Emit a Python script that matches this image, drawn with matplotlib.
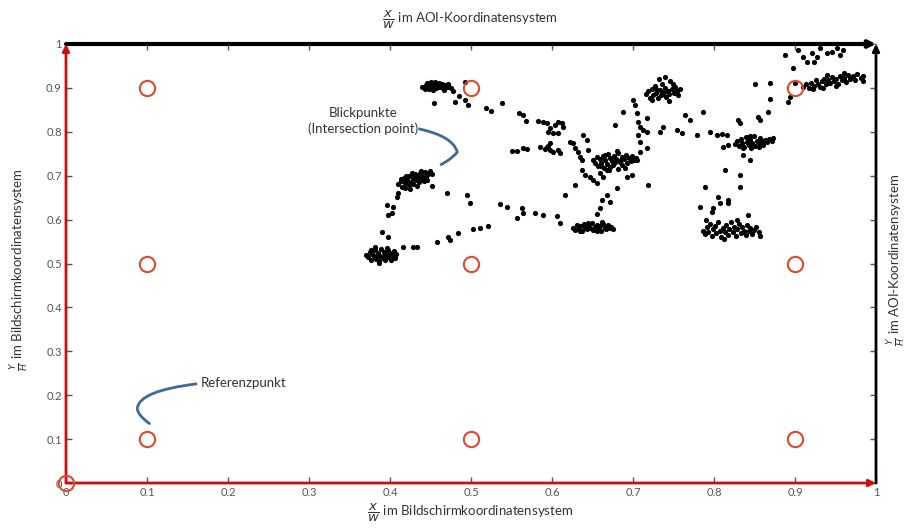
import numpy as np
import matplotlib
matplotlib.use("Agg")
import matplotlib.pyplot as plt
from matplotlib.path import Path
from matplotlib.patches import PathPatch

# reference points (red circles)
ref_x = [0.0, 0.1, 0.5, 0.9, 0.1, 0.5, 0.9, 0.1, 0.5, 0.9]
ref_y = [0.0, 0.1, 0.1, 0.1, 0.5, 0.5, 0.5, 0.9, 0.9, 0.9]

# gaze point clusters
cluster_a = [(0.440, 0.902), (0.445, 0.906), (0.448, 0.898), (0.450, 0.910), (0.452, 0.903),
             (0.455, 0.908), (0.457, 0.900), (0.460, 0.912), (0.462, 0.905), (0.465, 0.899),
             (0.468, 0.907), (0.470, 0.903), (0.443, 0.897), (0.447, 0.904), (0.451, 0.913),
             (0.454, 0.899), (0.458, 0.905), (0.461, 0.902), (0.464, 0.910), (0.467, 0.896),
             (0.472, 0.906), (0.475, 0.900), (0.449, 0.909), (0.456, 0.914), (0.463, 0.903),
             (0.446, 0.911), (0.453, 0.896), (0.459, 0.907), (0.466, 0.901), (0.471, 0.909)]
cluster_b = [(0.410, 0.680), (0.413, 0.688), (0.415, 0.675), (0.417, 0.695), (0.419, 0.683),
             (0.421, 0.690), (0.423, 0.678), (0.424, 0.700), (0.426, 0.686), (0.428, 0.694),
             (0.429, 0.681), (0.431, 0.703), (0.432, 0.690), (0.434, 0.697), (0.436, 0.685),
             (0.437, 0.706), (0.439, 0.693), (0.440, 0.700), (0.442, 0.688), (0.443, 0.708),
             (0.445, 0.697), (0.447, 0.703), (0.449, 0.711), (0.418, 0.672), (0.425, 0.670),
             (0.433, 0.676), (0.427, 0.706), (0.420, 0.700), (0.438, 0.711), (0.452, 0.705),
             (0.414, 0.693), (0.446, 0.690)]
cluster_c = [(0.370, 0.520), (0.373, 0.514), (0.375, 0.527), (0.377, 0.509), (0.378, 0.522),
             (0.380, 0.516), (0.382, 0.530), (0.383, 0.510), (0.385, 0.524), (0.386, 0.505),
             (0.388, 0.518), (0.389, 0.533), (0.391, 0.512), (0.392, 0.526), (0.394, 0.507),
             (0.395, 0.520), (0.397, 0.530), (0.398, 0.514), (0.400, 0.524), (0.401, 0.508),
             (0.403, 0.519), (0.405, 0.528), (0.406, 0.512), (0.408, 0.522), (0.381, 0.537),
             (0.387, 0.501), (0.396, 0.535), (0.376, 0.531), (0.393, 0.516), (0.384, 0.517)]
cluster_d = [(0.626, 0.582), (0.629, 0.577), (0.631, 0.588), (0.633, 0.580), (0.635, 0.585),
             (0.637, 0.575), (0.639, 0.590), (0.641, 0.582), (0.643, 0.578), (0.645, 0.586),
             (0.647, 0.580), (0.649, 0.592), (0.651, 0.576), (0.653, 0.584), (0.655, 0.588),
             (0.657, 0.579), (0.659, 0.585), (0.661, 0.575), (0.663, 0.590), (0.665, 0.582),
             (0.667, 0.578), (0.669, 0.587), (0.671, 0.581), (0.673, 0.584), (0.675, 0.579),
             (0.634, 0.574), (0.644, 0.593), (0.656, 0.573), (0.662, 0.594), (0.640, 0.586)]
cluster_e = [(0.650, 0.735), (0.653, 0.728), (0.655, 0.742), (0.657, 0.722), (0.659, 0.738),
             (0.661, 0.730), (0.663, 0.745), (0.664, 0.718), (0.666, 0.735), (0.668, 0.726),
             (0.669, 0.750), (0.671, 0.740), (0.672, 0.720), (0.674, 0.733), (0.676, 0.745),
             (0.677, 0.728), (0.679, 0.738), (0.681, 0.716), (0.682, 0.752), (0.684, 0.731),
             (0.686, 0.742), (0.687, 0.724), (0.689, 0.737), (0.691, 0.747), (0.693, 0.729),
             (0.695, 0.740), (0.697, 0.733), (0.699, 0.745), (0.701, 0.736), (0.704, 0.741),
             (0.660, 0.723), (0.670, 0.712), (0.680, 0.757), (0.690, 0.718), (0.666, 0.748),
             (0.675, 0.725), (0.685, 0.736), (0.678, 0.732)]
cluster_f = [(0.716, 0.885), (0.719, 0.892), (0.721, 0.878), (0.723, 0.897), (0.725, 0.884),
             (0.727, 0.904), (0.729, 0.889), (0.731, 0.876), (0.733, 0.895), (0.735, 0.883),
             (0.736, 0.910), (0.738, 0.890), (0.740, 0.900), (0.741, 0.880), (0.743, 0.894),
             (0.745, 0.886), (0.746, 0.915), (0.748, 0.898), (0.750, 0.888), (0.752, 0.902),
             (0.754, 0.893), (0.756, 0.884), (0.724, 0.872), (0.732, 0.920), (0.739, 0.925),
             (0.744, 0.871), (0.728, 0.898), (0.737, 0.887), (0.749, 0.910), (0.758, 0.897)]
cluster_g = [(0.826, 0.772), (0.829, 0.779), (0.831, 0.767), (0.833, 0.784), (0.835, 0.774),
             (0.837, 0.765), (0.839, 0.788), (0.841, 0.777), (0.843, 0.770), (0.845, 0.783),
             (0.847, 0.775), (0.849, 0.791), (0.851, 0.768), (0.853, 0.780), (0.855, 0.774),
             (0.857, 0.786), (0.859, 0.778), (0.861, 0.771), (0.863, 0.782), (0.865, 0.776),
             (0.868, 0.784), (0.871, 0.779), (0.873, 0.786), (0.836, 0.762), (0.846, 0.762),
             (0.844, 0.790), (0.856, 0.765)]
cluster_h = [(0.786, 0.575), (0.789, 0.567), (0.791, 0.583), (0.793, 0.572), (0.795, 0.590),
             (0.797, 0.562), (0.799, 0.578), (0.801, 0.586), (0.803, 0.569), (0.805, 0.594),
             (0.807, 0.575), (0.809, 0.560), (0.811, 0.582), (0.813, 0.571), (0.815, 0.588),
             (0.817, 0.565), (0.819, 0.578), (0.821, 0.595), (0.823, 0.572), (0.825, 0.584),
             (0.827, 0.563), (0.829, 0.579), (0.831, 0.590), (0.833, 0.570), (0.835, 0.583),
             (0.837, 0.575), (0.839, 0.566), (0.841, 0.587), (0.843, 0.573), (0.845, 0.580),
             (0.847, 0.568), (0.849, 0.577), (0.852, 0.584), (0.855, 0.571), (0.857, 0.562),
             (0.790, 0.600), (0.812, 0.556), (0.828, 0.600)]
cluster_i = [(0.910, 0.903), (0.914, 0.908), (0.917, 0.900), (0.920, 0.912), (0.923, 0.905),
             (0.926, 0.917), (0.928, 0.909), (0.931, 0.902), (0.933, 0.915), (0.936, 0.921),
             (0.938, 0.908), (0.941, 0.918), (0.943, 0.912), (0.946, 0.925), (0.948, 0.915),
             (0.951, 0.920), (0.953, 0.910), (0.956, 0.927), (0.958, 0.918), (0.961, 0.923),
             (0.963, 0.914), (0.966, 0.930), (0.968, 0.920), (0.971, 0.926), (0.974, 0.918),
             (0.977, 0.931), (0.981, 0.923), (0.984, 0.915), (0.984, 0.928), (0.922, 0.897),
             (0.940, 0.930), (0.950, 0.904), (0.960, 0.934), (0.935, 0.899)]
# saccade / stray points between fixations
strays = [(0.478, 0.893), (0.485, 0.882), (0.492, 0.873), (0.493, 0.913), (0.454, 0.865),
          (0.480, 0.868), (0.496, 0.862), (0.518, 0.855), (0.525, 0.848), (0.538, 0.866),
          (0.559, 0.843), (0.564, 0.838), (0.568, 0.825), (0.583, 0.825), (0.589, 0.822),
          (0.594, 0.820), (0.598, 0.809), (0.604, 0.815), (0.607, 0.822), (0.612, 0.820),
          (0.614, 0.811), (0.601, 0.797), (0.607, 0.797), (0.595, 0.800),
          (0.551, 0.756), (0.557, 0.756), (0.564, 0.763), (0.569, 0.761), (0.585, 0.765),
          (0.591, 0.761), (0.595, 0.768), (0.598, 0.759), (0.601, 0.754), (0.607, 0.759),
          (0.610, 0.752), (0.598, 0.774), (0.594, 0.765),
          (0.452, 0.677), (0.470, 0.661), (0.495, 0.656), (0.499, 0.638), (0.536, 0.636),
          (0.544, 0.629), (0.563, 0.626), (0.564, 0.615), (0.579, 0.615), (0.589, 0.610),
          (0.557, 0.604), (0.606, 0.608), (0.610, 0.592),
          (0.409, 0.651), (0.410, 0.661), (0.396, 0.633), (0.404, 0.629), (0.402, 0.615),
          (0.398, 0.610), (0.390, 0.572), (0.398, 0.560),
          (0.416, 0.538), (0.428, 0.538), (0.433, 0.538), (0.458, 0.549), (0.472, 0.560),
          (0.474, 0.554), (0.484, 0.569), (0.502, 0.579), (0.511, 0.581), (0.521, 0.585),
          (0.656, 0.613), (0.659, 0.626), (0.662, 0.645), (0.668, 0.656), (0.672, 0.640),
          (0.680, 0.672), (0.616, 0.656), (0.628, 0.679),
          (0.637, 0.713), (0.641, 0.702), (0.647, 0.697), (0.651, 0.690), (0.656, 0.683),
          (0.659, 0.706), (0.663, 0.697), (0.668, 0.713),
          (0.622, 0.777), (0.626, 0.774), (0.628, 0.763), (0.632, 0.754), (0.635, 0.743),
          (0.637, 0.736), (0.643, 0.781), (0.638, 0.793), (0.644, 0.759),
          (0.693, 0.697), (0.699, 0.702), (0.705, 0.736), (0.709, 0.754), (0.717, 0.763),
          (0.719, 0.679),
          (0.700, 0.872), (0.702, 0.861), (0.705, 0.843), (0.706, 0.822), (0.709, 0.811),
          (0.712, 0.804), (0.706, 0.793), (0.709, 0.777), (0.717, 0.800), (0.688, 0.845),
          (0.678, 0.815), (0.717, 0.831),
          (0.764, 0.838), (0.770, 0.827), (0.737, 0.811), (0.733, 0.800), (0.754, 0.804),
          (0.760, 0.797), (0.779, 0.793),
          (0.888, 0.975), (0.898, 0.945), (0.904, 0.986), (0.910, 0.970), (0.915, 0.959),
          (0.921, 0.980), (0.927, 0.970), (0.931, 0.991), (0.940, 0.980), (0.946, 0.982),
          (0.952, 0.991), (0.956, 0.975), (0.959, 0.986), (0.923, 0.959),
          (0.900, 0.911), (0.894, 0.879), (0.891, 0.868), (0.869, 0.911), (0.851, 0.909),
          (0.869, 0.874), (0.867, 0.845), (0.854, 0.834), (0.857, 0.827), (0.830, 0.827),
          (0.832, 0.820), (0.786, 0.845), (0.795, 0.800), (0.804, 0.793), (0.810, 0.795),
          (0.816, 0.793),
          (0.811, 0.765), (0.817, 0.770), (0.836, 0.747), (0.844, 0.736), (0.814, 0.713),
          (0.832, 0.702), (0.832, 0.674), (0.789, 0.674),
          (0.783, 0.629), (0.798, 0.617), (0.805, 0.651), (0.807, 0.638), (0.817, 0.645),
          (0.817, 0.638), (0.842, 0.610), (0.799, 0.626)]

gaze = np.array(cluster_a + cluster_b + cluster_c + cluster_d + cluster_e + cluster_f
                + cluster_g + cluster_h + cluster_i + strays)

plt.rcParams['font.family'] = ['Lato', 'DejaVu Sans']
fig = plt.figure(figsize=(9.08, 5.32), dpi=100)
ax = fig.add_axes([66 / 908, 49 / 532, 810 / 908, 439 / 532])
ax.set_xlim(0, 1)
ax.set_ylim(0, 1)

ax.scatter(gaze[:, 0], gaze[:, 1], s=14, color='black', marker='o', linewidths=0, zorder=3)
ax.plot(ref_x, ref_y, 'o', ms=11, mfc='none', mec='#e2472f', mew=1.5, zorder=4, clip_on=False)

for s in ax.spines.values():
    s.set_visible(False)
ticks = np.round(np.arange(0, 1.01, 0.1), 1)
ax.set_xticks(ticks)
ax.set_yticks(ticks)
ax.set_xticklabels(['0' if t == 0 else ('1' if t == 1 else f'{t:g}') for t in ticks])
ax.set_yticklabels(['0' if t == 0 else ('1' if t == 1 else f'{t:g}') for t in ticks])
ax.tick_params(direction='in', length=4, width=1, colors='#555555', labelsize=8,
               top=True, right=True, labeltop=False, labelright=False, pad=3)

# axis arrows
arr = dict(arrowstyle='-|>', mutation_scale=10, shrinkA=0, shrinkB=0)
ax.annotate('', xy=(1, 1), xytext=(0, 1), annotation_clip=False,
            arrowprops=dict(color='black', lw=3, **arr))
ax.annotate('', xy=(1, 1), xytext=(1, 0), annotation_clip=False,
            arrowprops=dict(color='black', lw=2, **arr))
ax.annotate('', xy=(1, 0), xytext=(0, 0), annotation_clip=False,
            arrowprops=dict(color='#cc1010', lw=2, **arr))
ax.annotate('', xy=(0, 1), xytext=(0, 0), annotation_clip=False,
            arrowprops=dict(color='#cc1010', lw=2, **arr))

# axis titles
lab = dict(fontsize=9.5, color='#333333')
fig.text(470 / 908, 1 - 20 / 532, r'$\dfrac{x}{w}$ im AOI-Koordinatensystem', ha='center', va='center', **lab)
fig.text(470 / 908, 1 - 513 / 532, r'$\dfrac{x}{w}$ im Bildschirmkoordinatensystem', ha='center', va='center', **lab)
fig.text(20 / 908, 1 - 270 / 532, r'$\frac{Y}{H}$ im Bildschirmkoordinatensystem', ha='center', va='center',
         rotation=90, **lab)
fig.text(897 / 908, 1 - 260 / 532, r'$\frac{Y}{H}$ im AOI-Koordinatensystem', ha='center', va='center',
         rotation=90, **lab)

# callouts
blue = '#3f6a98'
ax.text(0.367, 0.825, 'Blickpunkte\n(Intersection point)', ha='center', va='center',
        fontsize=9.5, color='#333333', linespacing=1.3)
p1 = Path([(0.435, 0.807), (0.478, 0.790), (0.483, 0.754), (0.480, 0.745), (0.470, 0.733), (0.462, 0.724)],
          [Path.MOVETO, Path.CURVE3, Path.CURVE3, Path.CURVE3, Path.CURVE3, Path.LINETO])
ax.add_patch(PathPatch(p1, fc='none', ec=blue, lw=2))
ax.text(0.166, 0.228, 'Referenzpunkt', ha='left', va='center', fontsize=9.5, color='#333333')
p2 = Path([(0.162, 0.226), (0.090, 0.210), (0.088, 0.170), (0.088, 0.155), (0.104, 0.134)],
          [Path.MOVETO, Path.CURVE3, Path.CURVE3, Path.CURVE3, Path.CURVE3])
ax.add_patch(PathPatch(p2, fc='none', ec=blue, lw=2))

fig.savefig('out.png', dpi=100)
